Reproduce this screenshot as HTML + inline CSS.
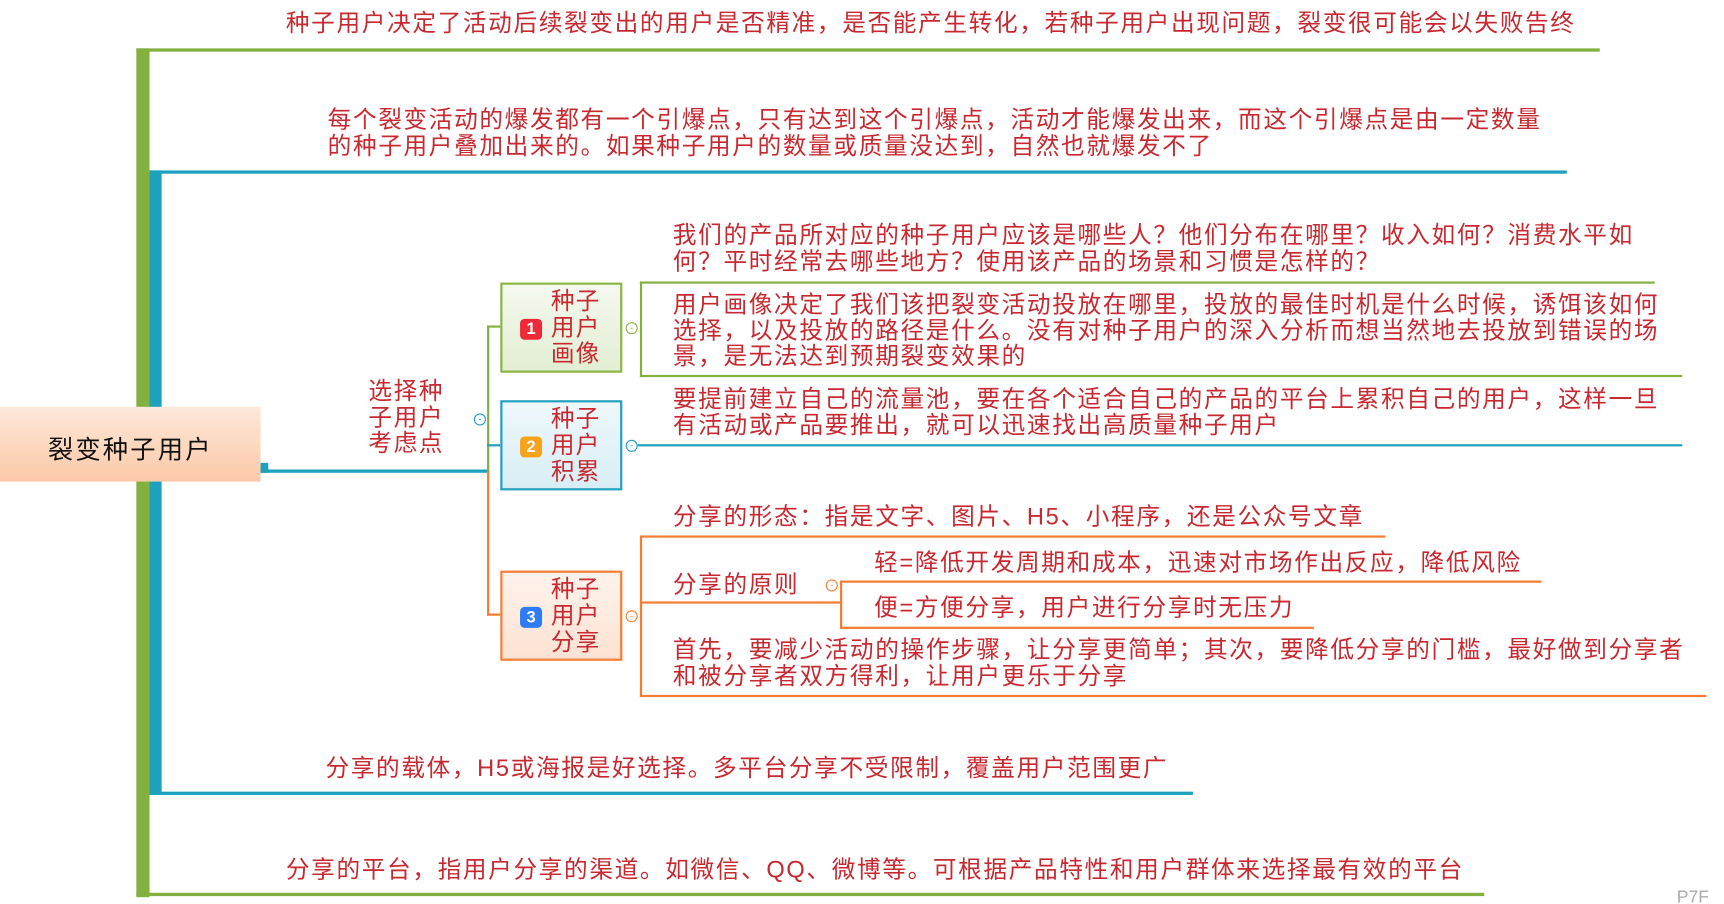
<!DOCTYPE html>
<html><head><meta charset="utf-8"><style>
html,body{margin:0;padding:0;background:#fff;overflow:hidden}
#w{position:relative;width:1568px;height:822px;transform:scale(1.0995);transform-origin:0 0;font-family:"Liberation Sans","Noto Sans CJK SC",sans-serif}
.t{position:absolute;color:#c8282f;font-size:21.5px;letter-spacing:1.5px;line-height:23.5px;white-space:nowrap;margin-top:2px}
.l{position:absolute}
.g{background:#84b040}.b{background:#1ea1bd}.o{background:#f77b30}
.box{position:absolute;width:107px;height:78px;border:2px solid}
.bx{position:absolute;left:44px;top:3px;color:#c8282f;font-size:21.5px;line-height:24px;letter-spacing:1px}
.bd{position:absolute;left:16px;top:31px;width:20px;height:19px;border-radius:4px;color:#fff;font-size:15px;font-weight:bold;text-align:center;line-height:19px}
.c{position:absolute;width:9px;height:9px;border-radius:50%;border:1.5px solid;background:#fff;font-size:8px;line-height:9px;text-align:center}
</style></head><body><div id="w">
<div class="l g" style="left:124px;top:44px;width:1331px;height:3px"></div>
<div class="l g" style="left:124px;top:44px;width:12px;height:772px"></div>
<div class="l g" style="left:124px;top:812px;width:1226px;height:3px"></div>
<div class="l b" style="left:136px;top:155px;width:1289px;height:3px"></div>
<div class="l b" style="left:136px;top:155px;width:11px;height:568px"></div>
<div class="l b" style="left:136px;top:720px;width:949px;height:3px"></div>

<div class="t" style="left:260px;top:8px">种子用户决定了活动后续裂变出的用户是否精准，是否能产生转化，若种子用户出现问题，裂变很可能会以失败告终</div>
<div class="t" style="left:298px;top:96px">每个裂变活动的爆发都有一个引爆点，只有达到这个引爆点，活动才能爆发出来，而这个引爆点是由一定数量<br>的种子用户叠加出来的。如果种子用户的数量或质量没达到，自然也就爆发不了</div>
<div class="t" style="left:296px;top:686px">分享的载体，H5或海报是好选择。多平台分享不受限制，覆盖用户范围更广</div>
<div class="t" style="left:260px;top:778px">分享的平台，指用户分享的渠道。如微信、QQ、微博等。可根据产品特性和用户群体来选择最有效的平台</div>

<div style="position:absolute;left:0;top:370px;width:237px;height:68px;background:linear-gradient(#fde8da,#fcc9a7)"></div>
<div style="position:absolute;left:0;top:390px;width:237px;text-align:center;font-size:23px;letter-spacing:2px;color:#111">裂变种子用户</div>
<div class="l b" style="left:237px;top:421px;width:7px;height:9px"></div>
<div class="l b" style="left:237px;top:427px;width:208px;height:3px"></div>
<div class="t" style="left:335px;top:343px">选择种<br>子用户<br>考虑点</div>
<div class="c" style="left:431px;top:376px;border-color:#1ea1bd;color:#1ea1bd">-</div>

<div class="l g" style="left:443px;top:296px;width:2px;height:132px"></div>
<div class="l g" style="left:443px;top:296px;width:12px;height:2px"></div>
<div class="l b" style="left:443px;top:404px;width:12px;height:2px"></div>
<div class="l o" style="left:443px;top:428px;width:2px;height:132px"></div>
<div class="l o" style="left:443px;top:558px;width:12px;height:2px"></div>

<div class="box" style="left:455px;top:257px;border-color:#8ab545;background:linear-gradient(#f5f9ef,#e2eed3)"><div class="bx">种子<br>用户<br>画像</div><div class="bd" style="background:#ee2a3a">1</div></div>
<div class="box" style="left:455px;top:364px;border-color:#23a0bf;background:linear-gradient(#eef8fb,#d8eef5)"><div class="bx">种子<br>用户<br>积累</div><div class="bd" style="background:#f7a21b">2</div></div>
<div class="box" style="left:455px;top:519px;border-color:#f97c33;background:linear-gradient(#fff3ec,#fde2d2)"><div class="bx">种子<br>用户<br>分享</div><div class="bd" style="background:#2d7cf6">3</div></div>
<div class="c" style="left:569px;top:293px;border-color:#8ab545;color:#8ab545">-</div>
<div class="c" style="left:569px;top:400px;border-color:#23a0bf;color:#23a0bf">-</div>
<div class="c" style="left:569px;top:555px;border-color:#f97c33;color:#f97c33">-</div>

<div class="l g" style="left:582px;top:256px;width:2px;height:87px"></div>
<div class="l g" style="left:582px;top:256px;width:923px;height:2px"></div>
<div class="l g" style="left:582px;top:341px;width:948px;height:2px"></div>
<div class="t" style="left:612px;top:201px">我们的产品所对应的种子用户应该是哪些人？他们分布在哪里？收入如何？消费水平如<br>何？平时经常去哪些地方？使用该产品的场景和习惯是怎样的？</div>
<div class="t" style="left:612px;top:264px">用户画像决定了我们该把裂变活动投放在哪里，投放的最佳时机是什么时候，诱饵该如何<br>选择，以及投放的路径是什么。没有对种子用户的深入分析而想当然地去投放到错误的场<br>景，是无法达到预期裂变效果的</div>

<div class="l b" style="left:580px;top:404px;width:950px;height:2px"></div>
<div class="t" style="left:612px;top:350px">要提前建立自己的流量池，要在各个适合自己的产品的平台上累积自己的用户，这样一旦<br>有活动或产品要推出，就可以迅速找出高质量种子用户</div>

<div class="l o" style="left:582px;top:487px;width:2px;height:147px"></div>
<div class="l o" style="left:582px;top:487px;width:678px;height:2px"></div>
<div class="l o" style="left:582px;top:547px;width:183px;height:2px"></div>
<div class="l o" style="left:582px;top:632px;width:970px;height:2px"></div>
<div class="t" style="left:612px;top:457px">分享的形态：指是文字、图片、H5、小程序，还是公众号文章</div>
<div class="t" style="left:612px;top:519px">分享的原则</div>
<div class="c" style="left:751px;top:527px;border-color:#f97c33;color:#f97c33">-</div>
<div class="l o" style="left:764px;top:528px;width:2px;height:44px"></div>
<div class="l o" style="left:764px;top:528px;width:638px;height:2px"></div>
<div class="l o" style="left:764px;top:570px;width:431px;height:2px"></div>
<div class="t" style="left:795px;top:499px">轻=降低开发周期和成本，迅速对市场作出反应，降低风险</div>
<div class="t" style="left:795px;top:540px">便=方便分享，用户进行分享时无压力</div>
<div class="t" style="left:612px;top:578px">首先，要减少活动的操作步骤，让分享更简单；其次，要降低分享的门槛，最好做到分享者<br>和被分享者双方得利，让用户更乐于分享</div>
<div style="position:absolute;left:1525px;top:808px;color:#aaa;font-size:16px">P7F</div>
</div></body></html>
